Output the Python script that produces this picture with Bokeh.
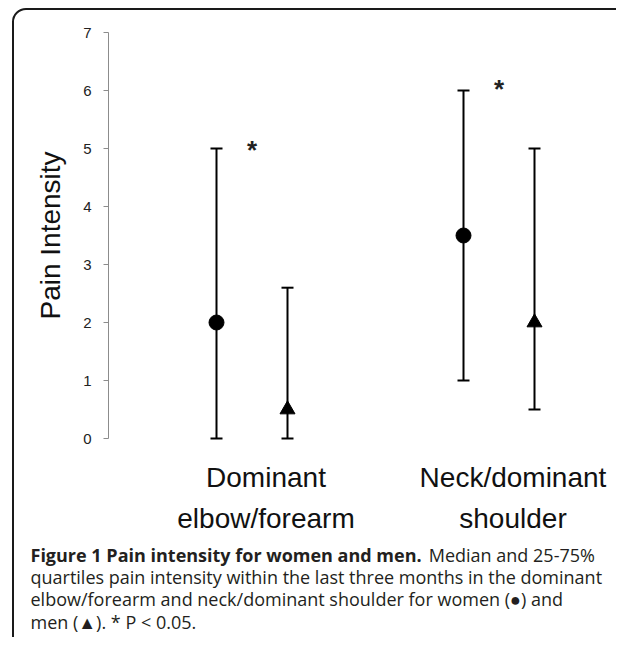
from bokeh.plotting import figure
from bokeh.models import FixedTicker, Label, BoxAnnotation, Range1d
from bokeh.core.properties import value
from bokeh.embed import file_html
from bokeh.resources import INLINE

# ---------------- data ----------------
categories = ["Dominant\nelbow/forearm", "Neck/dominant\nshoulder"]
cat_pos = [1.0, 2.0]
women_median = [2.0, 3.5]
women_q1 = [0.0, 1.0]
women_q3 = [5.0, 6.0]
men_median = [0.5, 2.0]
men_q1 = [0.0, 0.5]
men_q3 = [2.6, 5.0]
sig_text = ["*", "*"]
sig_level = [4.97, 6.02]
y_ticks = [0, 1, 2, 3, 4, 5, 6, 7]
y_label = "Pain Intensity"
caption_bold = "Figure 1 Pain intensity for women and men."
caption_first_rest = "Median and 25-75%"
caption_lines = [
    "quartiles pain intensity within the last three months in the dominant",
    "elbow/forearm and neck/dominant shoulder for women (\u25cf) and",
    "men (\u25b2). * P < 0.05.",
]

# ---------------- geometry (canvas pixels) ----------------
W, H = 616, 637
PX_PER_X = 247.0
PX_PER_Y = 58.0
X0 = 1 - 251.5 / PX_PER_X
X1 = X0 + W / PX_PER_X
Y1 = 438 / PX_PER_Y
Y0 = Y1 - H / PX_PER_Y
GROUP_OFFSET = 35.5 / PX_PER_X
LABEL_SHIFT = 14 / PX_PER_X


def dx(px):
    return X0 + px / PX_PER_X


def dy(py):
    return Y1 - py / PX_PER_Y


p = figure(width=W, height=H, output_backend="svg", toolbar_location=None,
           x_range=Range1d(X0, X1), y_range=Range1d(Y0, Y1),
           min_border=0, title=None)
p.grid.visible = False
p.outline_line_color = None
p.background_fill_color = "white"
p.border_fill_color = "white"

ya = p.yaxis[0]
ya.fixed_location = dx(108)
ya.ticker = FixedTicker(ticks=y_ticks)
ya.bounds = (0, 7)
ya.axis_line_color = "#8c8c8c"
ya.major_tick_line_color = "#8c8c8c"
ya.major_tick_out = 5
ya.major_tick_in = 0
ya.minor_tick_line_color = None
ya.major_label_text_font = "Liberation Sans"
ya.major_label_text_font_size = "15px"
ya.major_label_text_color = "#222222"
ya.major_label_standoff = 12
ya.axis_label = y_label
ya.axis_label_text_font = "Liberation Sans"
ya.axis_label_text_font_size = "28px"
ya.axis_label_text_font_style = "normal"
ya.axis_label_text_color = "#111111"
ya.axis_label_standoff = 14

xa = p.xaxis[0]
xa.fixed_location = 0
label_pos = [c + LABEL_SHIFT for c in cat_pos]
xa.ticker = FixedTicker(ticks=label_pos)
xa.major_label_overrides = {c: lab for c, lab in zip(label_pos, categories)}
xa.axis_line_color = None
xa.major_tick_line_color = None
xa.minor_tick_line_color = None
xa.major_tick_out = 0
xa.major_tick_in = 0
xa.major_label_text_font = "Liberation Sans"
xa.major_label_text_font_size = "28px"
xa.major_label_text_color = "#111111"
xa.major_label_standoff = 23
xa.major_label_text_line_height = 1.35

women_x = [c - GROUP_OFFSET for c in cat_pos]
men_x = [c + GROUP_OFFSET for c in cat_pos]

p.segment(x0=women_x, y0=women_q1, x1=women_x, y1=women_q3, line_color="black", line_width=2)
p.segment(x0=men_x, y0=men_q1, x1=men_x, y1=men_q3, line_color="black", line_width=2)
p.scatter(x=women_x + women_x, y=women_q1 + women_q3, marker="dash", size=12,
          line_color="black", line_width=2)
p.scatter(x=men_x + men_x, y=men_q1 + men_q3, marker="dash", size=12,
          line_color="black", line_width=2)
p.scatter(x=women_x, y=women_median, marker="circle", size=15, color="black")
p.scatter(x=men_x, y=men_median, marker="triangle", size=15, color="black")
p.text(x=cat_pos, y=sig_level, text=sig_text, text_font=value("Liberation Sans"),
       text_font_size="26px", text_font_style="bold", text_align="center",
       text_baseline="middle", text_color="#222222")

border = BoxAnnotation(left=dx(12.5), right=dx(629.5), top=dy(8.5), bottom=dy(650),
                       fill_color=None, fill_alpha=0, line_color="#1a1a1a",
                       line_alpha=1.0, line_width=2, border_radius=13, level="overlay")
p.add_layout(border)

fs = 18
cap_font = "Open Sans"
cap_x = 30
line_y = [554, 576, 598, 621]
bold_w = 21.925 * fs
p.add_layout(Label(x=dx(cap_x), y=dy(line_y[0]), text=caption_bold,
                   text_font=cap_font, text_font_size=f"{fs}px", text_font_style="bold",
                   text_baseline="middle", text_color="#231f20"))
p.add_layout(Label(x=dx(cap_x + bold_w + 0.2 * fs), y=dy(line_y[0]), text=caption_first_rest,
                   text_font=cap_font, text_font_size=f"{fs}px",
                   text_baseline="middle", text_color="#231f20"))
for ln, yy in zip(caption_lines, line_y[1:]):
    p.add_layout(Label(x=dx(cap_x), y=dy(yy), text=ln,
                       text_font=cap_font, text_font_size=f"{fs}px",
                       text_baseline="middle", text_color="#231f20"))

open("out.html", "w").write(file_html(p, INLINE))
